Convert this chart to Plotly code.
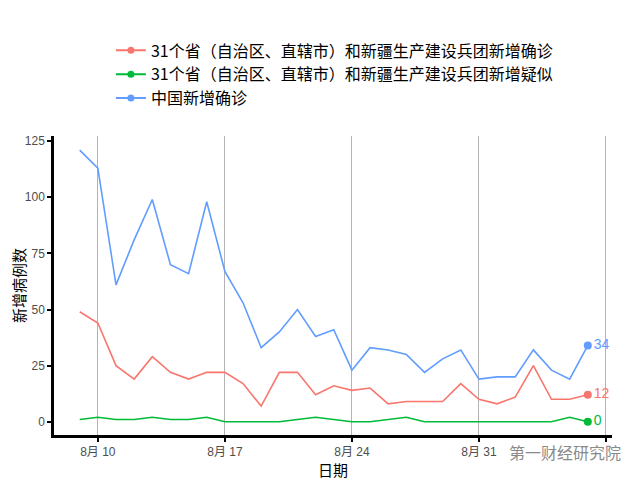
import plotly.graph_objects as go
import pandas as pd

dates = pd.date_range("2020-08-09", periods=29, freq="D")

name_conf = "31个省（自治区、直辖市）和新疆生产建设兵团新增确诊"
name_susp = "31个省（自治区、直辖市）和新疆生产建设兵团新增疑似"
name_china = "中国新增确诊"

conf_31 = [49, 44, 25, 19, 29, 22, 19, 22, 22, 17, 7, 22, 22, 12, 16, 14, 15,
           8, 9, 9, 9, 17, 10, 8, 11, 25, 10, 10, 12]
susp_31 = [1, 2, 1, 1, 2, 1, 1, 2, 0, 0, 0, 0, 1, 2, 1, 0, 0,
           1, 2, 0, 0, 0, 0, 0, 0, 0, 0, 2, 0]
china_conf = [121, 113, 61, 81, 99, 70, 66, 98, 67, 53, 33, 40, 50, 38, 41, 23, 33,
              32, 30, 22, 28, 32, 19, 20, 20, 32, 23, 19, 34]

tick_dates = ["2020-08-10", "2020-08-17", "2020-08-24", "2020-08-31", "2020-09-07"]
tick_text = ["8月 10", "8月 17", "8月 24", "8月 31", ""]
y_ticks = [0, 25, 50, 75, 100, 125]

series = [
    (name_conf, conf_31, "#F8766D"),
    (name_susp, susp_31, "#00BA38"),
    (name_china, china_conf, "#619CFF"),
]

FONT = "Liberation Sans, Arial, Noto Sans CJK SC"
CJK = "Noto Sans CJK SC, Liberation Sans"

fig = go.Figure()
for name, vals, col in series:
    fig.add_trace(go.Scatter(
        x=dates, y=vals, mode="lines", line=dict(color=col, width=1.6),
        showlegend=False, hoverinfo="skip"))
    fig.add_trace(go.Scatter(
        x=[dates[-1]], y=[vals[-1]], mode="markers+text",
        marker=dict(color=col, size=8), text=[str(vals[-1])],
        textposition="middle right", textfont=dict(color=col, size=14, family=FONT),
        showlegend=False))
for name, vals, col in series:
    fig.add_trace(go.Scatter(
        x=[None], y=[None], mode="lines+markers", name=name,
        line=dict(color=col, width=2), marker=dict(color=col, size=7)))

fig.update_layout(
    width=640, height=480,
    margin=dict(l=46, r=36, t=128, b=53),
    paper_bgcolor="white", plot_bgcolor="white",
    font=dict(family=CJK, size=15, color="black"),
    legend=dict(x=0.102, y=1.343, xanchor="left", yanchor="top",
                font=dict(family=CJK, size=16), itemwidth=30,
                bgcolor="rgba(0,0,0,0)", tracegroupgap=2),
    xaxis=dict(
        range=["2020-08-07 14:00", "2020-09-07 08:00"],
        tickvals=tick_dates, ticktext=tick_text,
        showgrid=True, gridcolor="#B3B3B3", gridwidth=1,
        showline=True, linecolor="black", linewidth=2.5,
        ticks="outside", ticklen=4, tickcolor="black", tickwidth=1.5,
        tickfont=dict(family=FONT, size=12, color="#4D4D4D"),
        title=dict(text="日期", font=dict(family=CJK, size=15), standoff=6),
        automargin=False, zeroline=False),
    yaxis=dict(
        range=[-5.9, 127.3], tickvals=y_ticks,
        showgrid=False,
        showline=True, linecolor="black", linewidth=2.5,
        ticks="outside", ticklen=4, tickcolor="black", tickwidth=1.5,
        tickfont=dict(family=FONT, size=12, color="#4D4D4D"),
        title=dict(text="新增病例数", font=dict(family=CJK, size=15), standoff=4),
        automargin=False, zeroline=False),
    annotations=[dict(
        text="第一财经研究院", xref="paper", yref="paper", x=0.812, y=-0.057,
        xanchor="left", yanchor="middle",
        showarrow=False, font=dict(family=CJK, size=16, color="#8A8A8A"))],
)

fig.write_html("out.html")
